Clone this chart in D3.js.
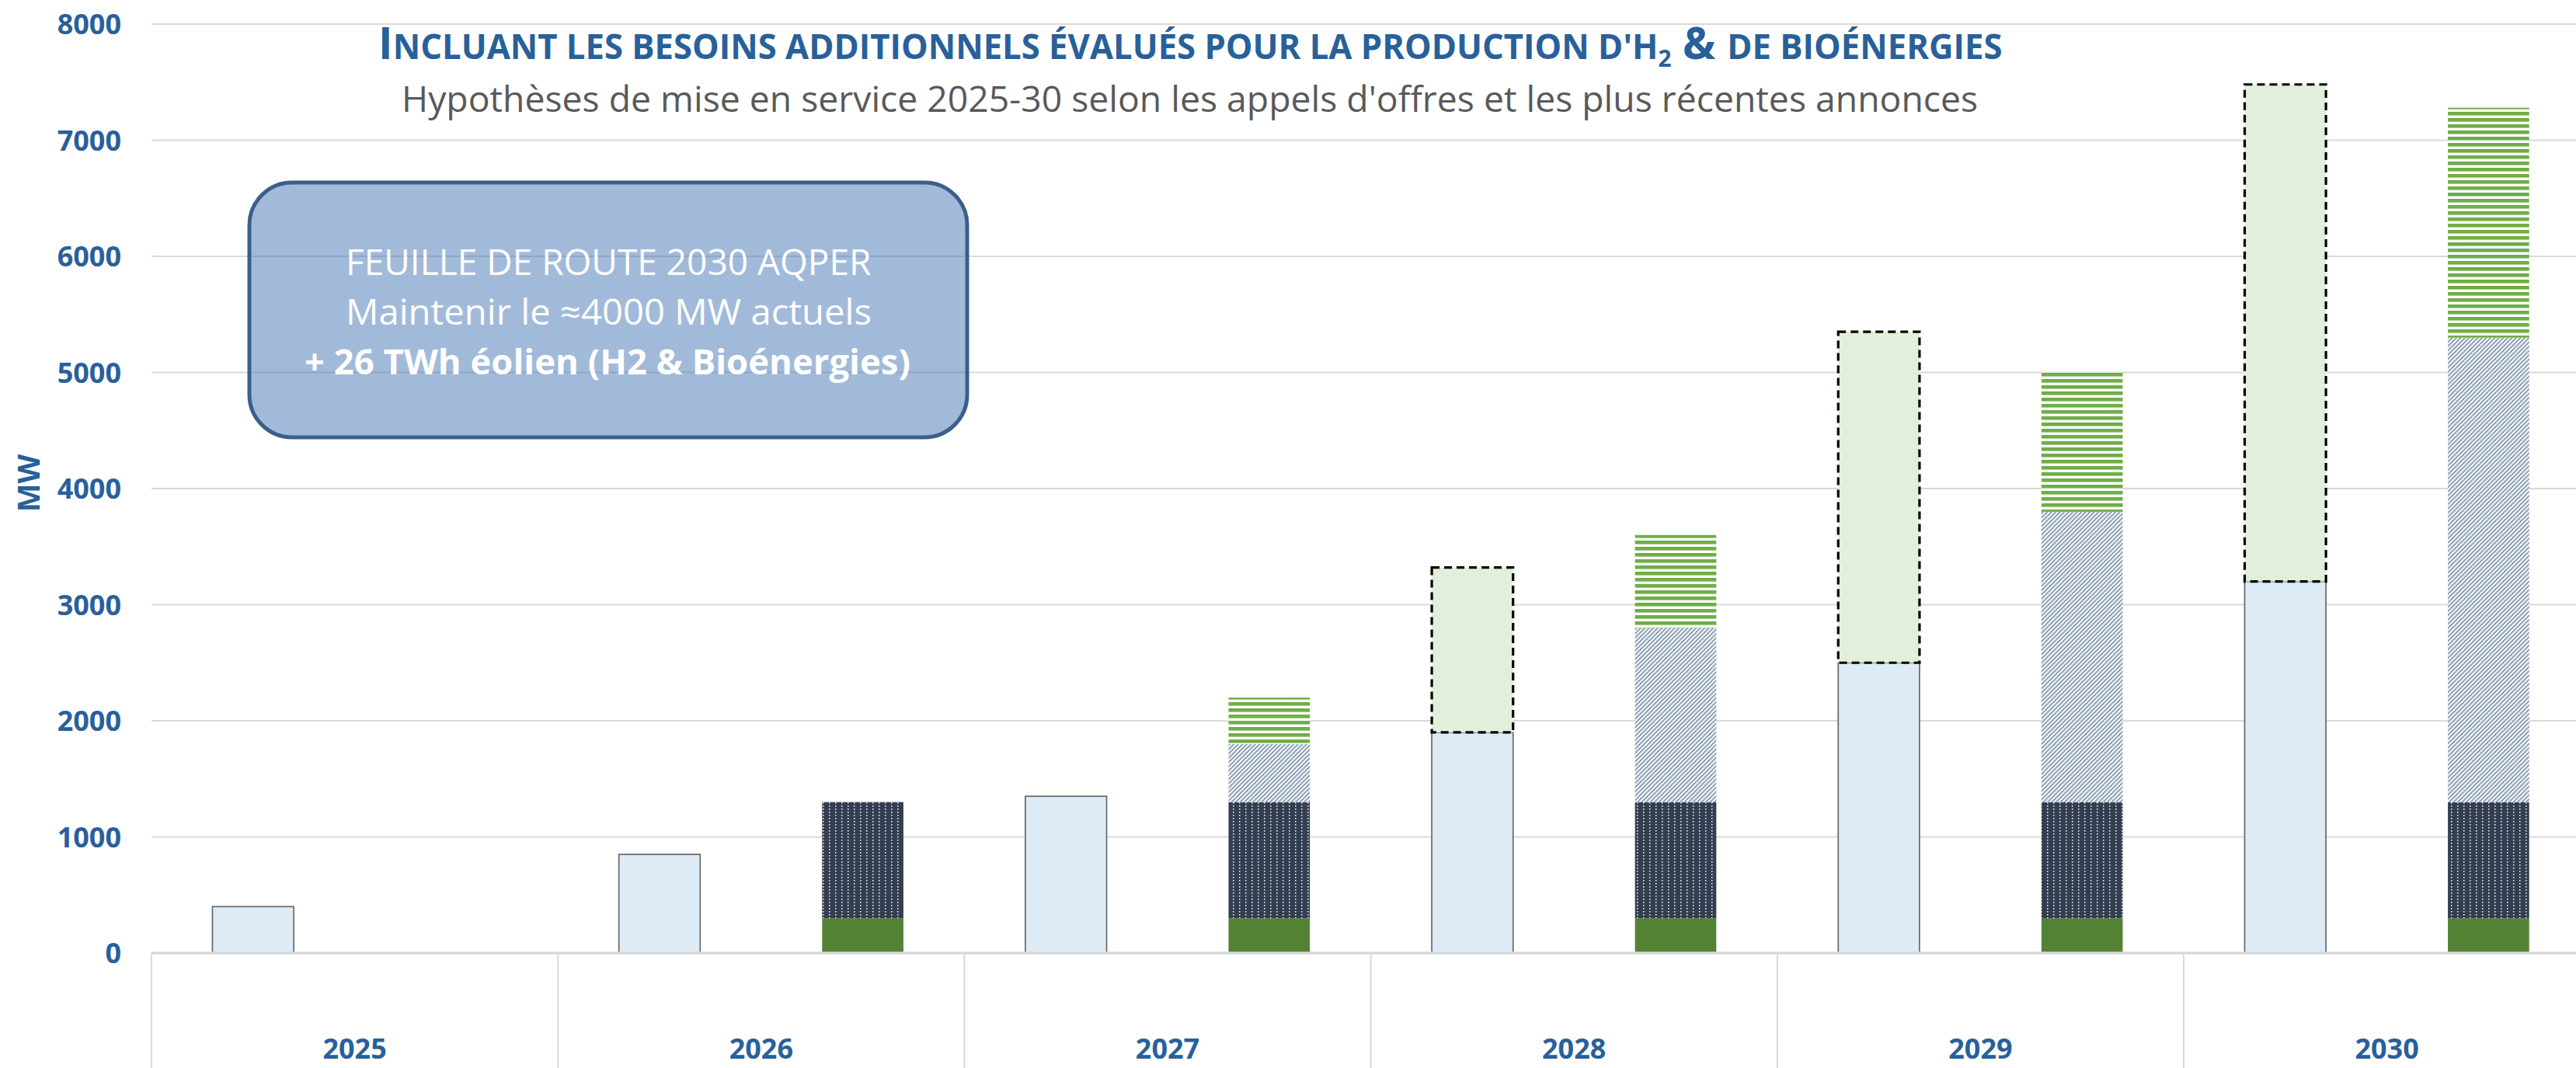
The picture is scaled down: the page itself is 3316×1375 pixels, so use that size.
<!DOCTYPE html>
<html>
<head>
<meta charset="utf-8">
<script src="https://cdn.jsdelivr.net/npm/d3@7"></script>
<style>
  html, body { margin: 0; padding: 0; background: #ffffff; overflow: hidden; }
  svg { display: block; }
</style>
</head>
<body>
<svg id="chart" width="3316" height="1375"></svg>
<script>
// ---------------- DATA ----------------
const years = ["2025", "2026", "2027", "2028", "2029", "2030"];
// Left bar of each year
const baseMW      = [400, 850, 1350, 1900, 2500, 3200];   // light blue
const addH2BioMW  = [0, 0, 0, 1420, 2850, 4280];          // light green, dashed outline
// Right bar of each year
const greenMW     = [0, 300, 300, 300, 300, 300];         // solid green
const dottedMW    = [0, 1000, 1000, 1000, 1000, 1000];    // dark navy, white dots
const hatchedMW   = [0, 0, 500, 1500, 2500, 4000];        // blue-grey diagonal hatch
const stripedMW   = [0, 0, 400, 800, 1200, 1980];         // green horizontal stripes
const yTicks      = [0, 1000, 2000, 3000, 4000, 5000, 6000, 7000, 8000];

const titleText    = ["I", "NCLUANT LES BESOINS ADDITIONNELS ÉVALUÉS POUR LA PRODUCTION D'H", "2", " & ", "DE BIOÉNERGIES"];
const subtitleText = "Hypothèses de mise en service 2025-30 selon les appels d'offres et les plus récentes annonces";
const boxLines     = ["FEUILLE DE ROUTE 2030 AQPER", "Maintenir le ≈4000 MW actuels", "+ 26 TWh éolien (H2 & Bioénergies)"];
const yLabel       = "MW";

// ---------------- SETUP ----------------
const W = 3316, H = 1375;
const svg = d3.select("#chart");
const FONT = "'Open Sans', 'Noto Sans', sans-serif";
const BLUE = "#28609A";

const plotLeft = 195, band = 523.2;
const y0 = 1227, yTop = 31;

const x = d3.scaleBand().domain(years).range([plotLeft, plotLeft + band * years.length]).padding(0);
const side = d3.scalePoint().domain(["L", "R"]).range([0, x.bandwidth()]).padding(0.5);
const barW = x.bandwidth() / 5;
const y = d3.scaleLinear().domain([0, 8000]).range([y0, yTop]);

const rows = years.map((yr, i) => ({
  year: yr,
  base: baseMW[i], add: addH2BioMW[i],
  green: greenMW[i], dotted: dottedMW[i], hatched: hatchedMW[i], striped: stripedMW[i]
}));

// ---------------- PATTERNS ----------------
const defs = svg.append("defs");
const pDot = defs.append("pattern").attr("id", "pDot").attr("patternUnits", "userSpaceOnUse")
  .attr("width", 8).attr("height", 4);
pDot.append("rect").attr("width", 8).attr("height", 4).attr("fill", "#333F50");
pDot.append("rect").attr("x", 3).attr("y", 1).attr("width", 1.5).attr("height", 1.5).attr("fill", "#ffffff");

const hs = 5.5;
const pHatch = defs.append("pattern").attr("id", "pHatch").attr("patternUnits", "userSpaceOnUse")
  .attr("width", hs).attr("height", hs);
pHatch.append("rect").attr("width", hs).attr("height", hs).attr("fill", "#ffffff");
pHatch.append("path")
  .attr("d", `M0,${hs} L${hs},0 M${-hs / 2},${hs / 2} L${hs / 2},${-hs / 2} M${hs / 2},${hs * 1.5} L${hs * 1.5},${hs / 2}`)
  .attr("stroke", "#8497B0").attr("stroke-width", 1.9);

const pStripe = defs.append("pattern").attr("id", "pStripe").attr("patternUnits", "userSpaceOnUse")
  .attr("width", 8).attr("height", 8);
pStripe.append("rect").attr("width", 8).attr("height", 8).attr("fill", "#ffffff");
pStripe.append("rect").attr("y", 0).attr("width", 8).attr("height", 4.6).attr("fill", "#70AD47");

// ---------------- GRID ----------------
svg.append("g").selectAll("line").data(yTicks.filter(d => d > 0)).join("line")
  .attr("x1", plotLeft).attr("x2", W)
  .attr("y1", d => y(d)).attr("y2", d => y(d))
  .attr("stroke", "#D9D9D9").attr("stroke-width", 2.2);

// category separators below axis
const seps = years.map(yr => x(yr)).concat([x.range()[1]]);
svg.append("g").selectAll("line").data(seps).join("line")
  .attr("x1", d => d).attr("x2", d => d)
  .attr("y1", y0).attr("y2", H)
  .attr("stroke", "#D9D9D9").attr("stroke-width", 2);

// ---------------- BARS ----------------
const leftKeys = ["base", "add"];
const rightKeys = ["green", "dotted", "hatched", "striped"];
const leftStack = d3.stack().keys(leftKeys)(rows);
const rightStack = d3.stack().keys(rightKeys)(rows);

const leftStyle = {
  base: { fill: "#DDEBF7", stroke: "#6F6F6F", width: 1.8, dash: null },
  add:  { fill: "#E2EFDA", stroke: "#000000", width: 3.2, dash: "10,6" }
};
const rightFill = { green: "#548235", dotted: "url(#pDot)", hatched: "url(#pHatch)", striped: "url(#pStripe)" };

const barsG = svg.append("g");
rightStack.forEach(s => {
  barsG.append("g").selectAll("rect").data(s.filter(d => d[1] - d[0] > 0)).join("rect")
    .attr("x", d => x(d.data.year) + side("R") - barW / 2)
    .attr("width", barW)
    .attr("y", d => y(d[1]))
    .attr("height", d => y(d[0]) - y(d[1]))
    .attr("fill", rightFill[s.key]);
});
leftStack.forEach(s => {
  const st = leftStyle[s.key];
  barsG.append("g").selectAll("rect").data(s.filter(d => d[1] - d[0] > 0)).join("rect")
    .attr("x", d => x(d.data.year) + side("L") - barW / 2)
    .attr("width", barW)
    .attr("y", d => y(d[1]))
    .attr("height", d => y(d[0]) - y(d[1]))
    .attr("fill", st.fill)
    .attr("stroke", st.stroke)
    .attr("stroke-width", st.width)
    .attr("stroke-dasharray", st.dash);
});

// baseline
svg.append("line").attr("x1", plotLeft).attr("x2", W).attr("y1", y0).attr("y2", y0)
  .attr("stroke", "#D9D9D9").attr("stroke-width", 3.5);

// ---------------- AXES ----------------
const yAxis = svg.append("g").attr("transform", `translate(${plotLeft},0)`)
  .call(d3.axisLeft(y).tickValues(yTicks).tickSize(0).tickPadding(39).tickFormat(d3.format("d")));
yAxis.select(".domain").remove();
yAxis.selectAll("text").attr("font-family", FONT).attr("font-size", 36).attr("font-weight", 700)
  .attr("fill", BLUE).attr("dy", "0.36em");

const xAxis = svg.append("g").attr("transform", `translate(0,${y0})`)
  .call(d3.axisBottom(x).tickSize(0));
xAxis.select(".domain").remove();
xAxis.selectAll("text").attr("font-family", FONT).attr("font-size", 36).attr("font-weight", 700)
  .attr("fill", BLUE).attr("y", 136).attr("dy", 0);

svg.append("text").attr("transform", "translate(51,622) rotate(-90)")
  .attr("text-anchor", "middle").attr("font-family", FONT).attr("font-size", 39).attr("font-weight", 700)
  .attr("fill", BLUE).text(yLabel);

// ---------------- TEXT HELPERS ----------------
function fitGroup(g, x0, x1) {
  const bb = g.node().getBBox();
  const s = (x1 - x0) / bb.width;
  g.attr("transform", `translate(${x0},0) scale(${s},1) translate(${-bb.x},0)`);
}

// Title (small caps)
const tG = svg.append("g");
const tT = tG.append("text").attr("x", 0).attr("y", 76).attr("font-family", FONT).attr("font-weight", 700).attr("fill", BLUE);
tT.append("tspan").attr("font-size", 57).text(titleText[0]);
tT.append("tspan").attr("font-size", 44).text(titleText[1]);
tT.append("tspan").attr("font-size", 30).attr("dy", 10).text(titleText[2]);
tT.append("tspan").attr("font-size", 57).attr("dy", -10).text(titleText[3]);
tT.append("tspan").attr("font-size", 44).text(titleText[4]);
fitGroup(tG, 487, 2578);

// Subtitle
const sG = svg.append("g");
sG.append("text").attr("x", 0).attr("y", 144).attr("font-family", FONT).attr("font-size", 45)
  .attr("fill", "#595959").text(subtitleText);
fitGroup(sG, 517, 2547);

// ---------------- ANNOTATION BOX ----------------
svg.append("rect").attr("x", 321).attr("y", 235).attr("width", 924).attr("height", 328)
  .attr("rx", 55).attr("ry", 55)
  .attr("fill", "#4575B3").attr("fill-opacity", 0.5)
  .attr("stroke", "#3A5F8B").attr("stroke-width", 5);

const boxSpec = [
  { t: boxLines[0], yb: 354, x0: 445, x1: 1122, w: 400 },
  { t: boxLines[1], yb: 418, x0: 445, x1: 1122, w: 400 },
  { t: boxLines[2], yb: 482, x0: 392, x1: 1172, w: 700 }
];
boxSpec.forEach(b => {
  const g = svg.append("g");
  g.append("text").attr("x", 0).attr("y", b.yb).attr("font-family", FONT).attr("font-size", 45)
    .attr("font-weight", b.w).attr("fill", "#ffffff").text(b.t);
  fitGroup(g, b.x0, b.x1);
});
</script>
</body>
</html>
